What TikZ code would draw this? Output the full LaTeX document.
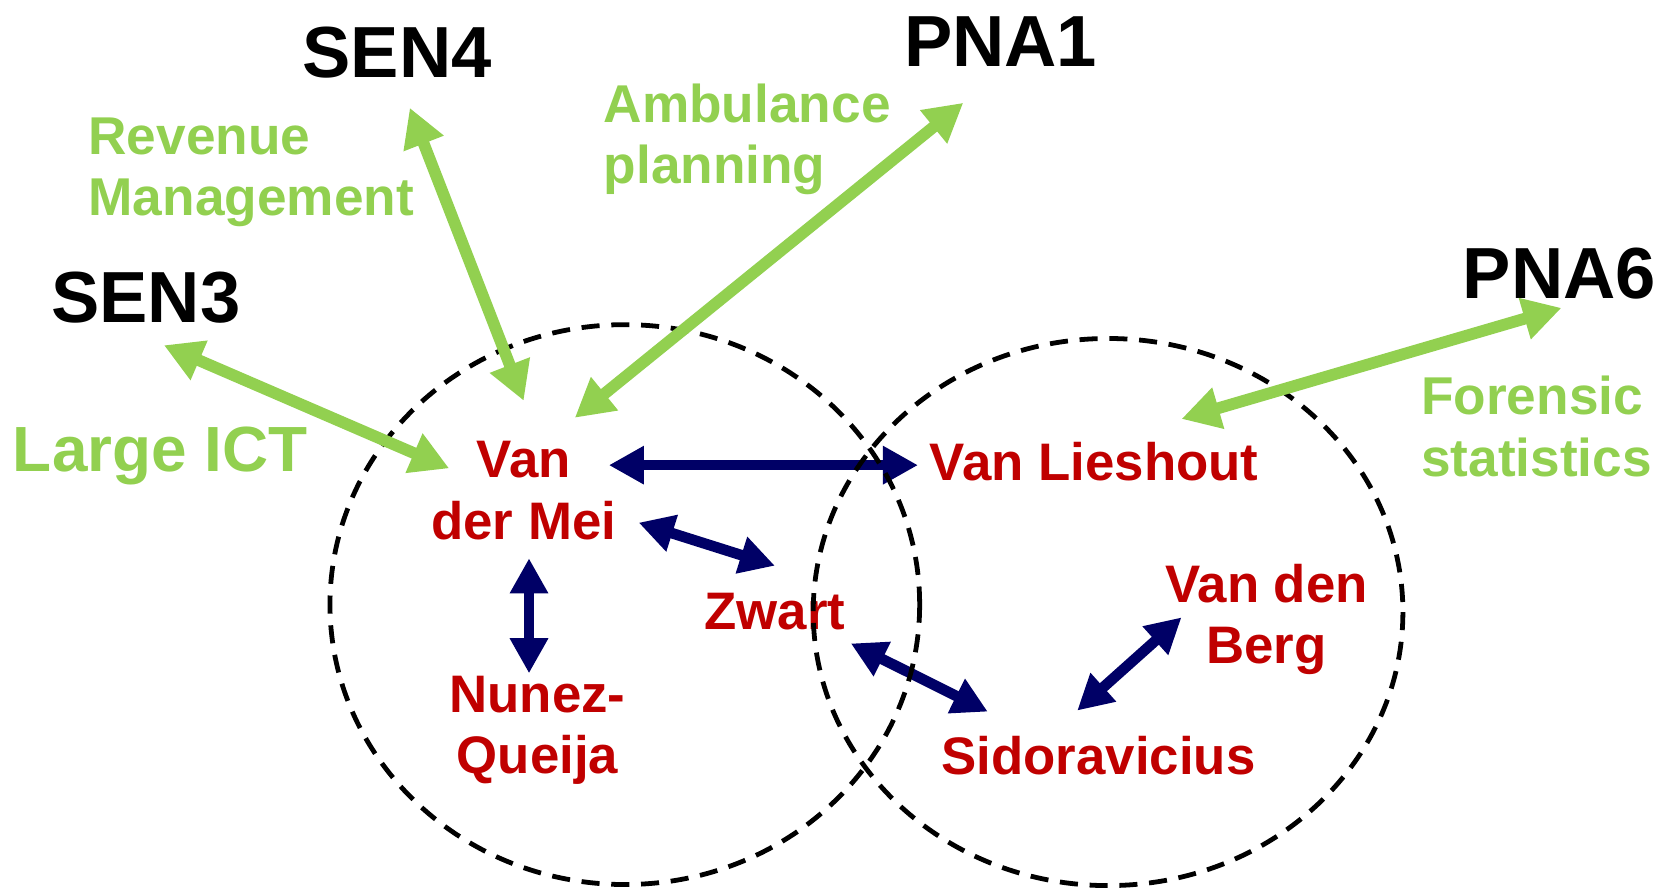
\documentclass[tikz,border=0pt]{standalone}
\usepackage{fontspec}
\setmainfont{Liberation Sans}
\usetikzlibrary{arrows.meta}
\definecolor{lgreen}{HTML}{92D050}
\definecolor{dred}{HTML}{C00000}
\definecolor{navy}{HTML}{000066}
\tikzset{
  person/.style={text=dred, font=\bfseries\fontsize{49.6}{58}\selectfont, align=center, inner sep=0pt},
  topic/.style={text=lgreen, font=\bfseries\fontsize{50}{58}\selectfont, align=left, inner sep=0pt, anchor=west},
  group/.style={text=black, font=\bfseries\fontsize{68}{80}\selectfont, inner sep=0pt},
  greenarrow/.style={draw=lgreen, line width=11pt, {Triangle[length=36pt,width=38pt]}-{Triangle[length=36pt,width=38pt]}},
  navyarrow/.style={draw=navy, line width=10pt, {Triangle[length=33pt,width=34pt]}-{Triangle[length=33pt,width=34pt]}},
  circ/.style={draw=black, line width=4.5pt, dash pattern=on 17pt off 11pt}
}
\begin{document}
\begin{tikzpicture}[x=1pt,y=-1pt]
\useasboundingbox (0,0) rectangle (1568,835);
% people
\node[person] (vdm) at (492,461) {Van\\der Mei};
\node[person] (vl) at (1028,434) {Van Lieshout};
\node[person] (zw) at (728,575) {Zwart};
\node[person] (vdb) at (1190,582) {Van den\\Berg};
\node[person] (nq) at (505,686) {Nunez-\\Queija};
\node[person] (sid) at (1032,710) {Sidoravicius};
% groups
\node[group] (sen3) at (137,280) {SEN3};
\node[group] (sen4) at (373,49) {SEN4};
\node[group] (pna1) at (940,39) {PNA1};
\node[group] (pna6) at (1465,257) {PNA6};
% topics
\node[topic] (rm) at (83,162) {Revenue\\Management};
\node[topic] (amb) at (567,131) {Ambulance\\planning};
\node[topic, font=\bfseries\fontsize{60}{70}\selectfont] (ict) at (12,428) {Large ICT};
\node[topic] (fs) at (1335,401) {Forensic\\statistics};
% navy arrows
\draw[navyarrow] ([shift={(80,-24)}]vdm.center) -- ([shift={(-11,3)}]vl.west);
\draw[navyarrow] ([shift={(108,30)}]vdm.center) -- ([shift={(0,-26)}]zw.north);
\draw[navyarrow] ([shift={(5,17)}]vdm.south) -- ([shift={(-8,-2)}]nq.north);
\draw[navyarrow] ([shift={(5,12)}]zw.south east) -- ([shift={(-104,-23)}]sid.north);
\draw[navyarrow] ([shift={(-80,-2)}]vdb.center) -- ([shift={(-20,-24)}]sid.north);
% circles
\draw[circ] (587,568) ellipse [x radius=277, y radius=263];
\draw[circ] (1041,575) ellipse [x radius=277, y radius=257];
% green arrows
\draw[greenarrow] ([shift={(17,20)}]sen3.south) -- ([shift={(-70,-21)}]vdm.center);
\draw[greenarrow] ([shift={(12,28)}]sen4.south) -- ([shift={(0,-38)}]vdm.north);
\draw[greenarrow] ([shift={(-35,34)}]pna1.south) -- ([shift={(48,-22)}]vdm.north);
\draw[greenarrow] ([shift={(2,8)}]pna6.south) -- ([shift={(82,-22)}]vl.north);
\end{tikzpicture}
\end{document}
